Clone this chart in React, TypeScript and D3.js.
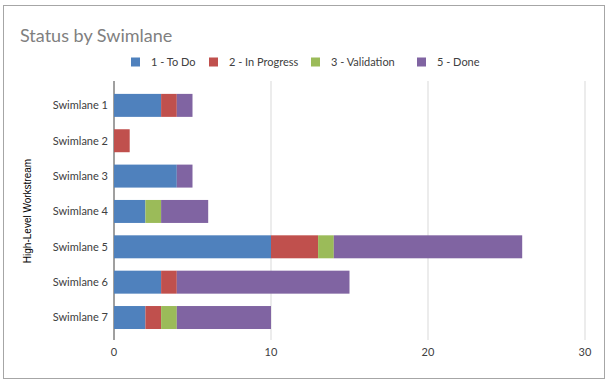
import React from "react";
import * as d3 from "d3";

const categories = ["Swimlane 1", "Swimlane 2", "Swimlane 3", "Swimlane 4", "Swimlane 5", "Swimlane 6", "Swimlane 7"];
const seriesNames = ["1 - To Do", "2 - In Progress", "3 - Validation", "5 - Done"];
const toDo = [3, 0, 4, 2, 10, 3, 2];
const inProgress = [1, 1, 0, 0, 3, 1, 1];
const validation = [0, 0, 0, 1, 1, 0, 1];
const done = [1, 0, 1, 3, 12, 11, 6];
const xTicks = [0, 10, 20, 30];
const colors = ["#4f81bd", "#c0504d", "#9bbb59", "#8064a2"];

const W = 609;
const H = 382;
const FONT = "Lato, 'Open Sans', sans-serif";

export default function App() {
  const seriesValues = [toDo, inProgress, validation, done];
  const rows = categories.map((c, i) => {
    const r: any = { cat: c };
    seriesNames.forEach((s, j) => (r[s] = seriesValues[j][i]));
    return r;
  });
  const stacked = d3.stack<any>().keys(seriesNames)(rows);

  const x = d3.scaleLinear().domain([0, 30]).range([114, 585]);
  const y = d3
    .scaleBand<string>()
    .domain(categories)
    .range([87.7, 335.2])
    .paddingInner(0.35)
    .paddingOuter(0.175);

  const legendX = [131, 209, 311, 417];

  return (
    <svg width={W} height={H} style={{ position: "absolute", left: 0, top: 0 }} fontFamily={FONT}>
      <rect x={0} y={0} width={W} height={H} fill="#fff" />
      <rect x={3.5} y={5.5} width={601} height={373} fill="#fff" stroke="#a6a6a6" strokeWidth={1} />
      <text x={20} y={42} fontSize={18} fill="#808080">
        Status by Swimlane
      </text>
      {seriesNames.map((s, j) => (
        <g key={s}>
          <rect x={legendX[j]} y={57.5} width={9} height={9} fill={colors[j]} />
          <text x={legendX[j] + 20} y={62} dy="0.35em" fontSize={11} fill="#404040">
            {s}
          </text>
        </g>
      ))}
      {xTicks.map((t) => (
        <line key={t} x1={x(t)} x2={x(t)} y1={81} y2={340} stroke={t === 0 ? "#404040" : "#d9d9d9"} strokeWidth={1} />
      ))}
      {stacked.map((layer, j) => (
        <g key={layer.key} fill={colors[j]}>
          {layer.map((d, i) =>
            d[1] - d[0] > 0 ? (
              <rect
                key={i}
                x={x(d[0])}
                y={y(categories[i])}
                width={x(d[1]) - x(d[0])}
                height={y.bandwidth()}
              />
            ) : null
          )}
        </g>
      ))}
      {categories.map((c) => (
        <text
          key={c}
          x={108}
          y={(y(c) as number) + y.bandwidth() / 2}
          dy="0.35em"
          textAnchor="end"
          fontSize={11}
          fill="#404040"
        >
          {c}
        </text>
      ))}
      {xTicks.map((t) => (
        <text key={t} x={x(t)} y={352} dy="0.35em" textAnchor="middle" fontSize={11} fill="#404040">
          {t}
        </text>
      ))}
      <text
        transform={`translate(31, 211) rotate(-90)`}
        textAnchor="middle"
        fontSize={10}
        fontFamily="'Liberation Sans', Arial, sans-serif"
        fill="#000"
      >
        High-Level Workstream
      </text>
    </svg>
  );
}
